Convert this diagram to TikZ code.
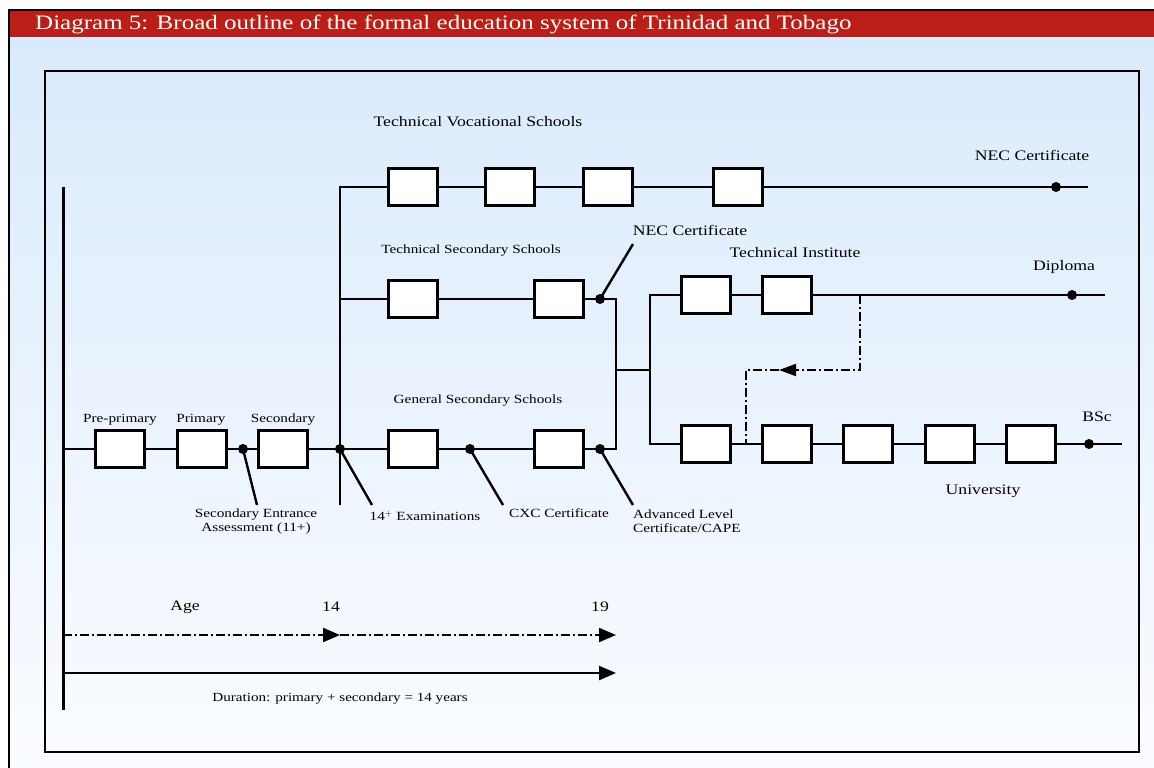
\documentclass[tikz,border=0pt]{standalone}
\usepackage{fontspec}
\setmainfont{Liberation Serif}[FakeStretch=1.22]
\usetikzlibrary{arrows.meta}
\definecolor{band}{RGB}{186,30,22}
\definecolor{skytop}{RGB}{218,234,252}
\definecolor{skybot}{RGB}{250,252,255}
\begin{document}
\begin{tikzpicture}[x=1pt,y=-1pt,
  stage/.style={draw,line width=2.4pt,fill=white,minimum width=49pt,minimum height=37pt,inner sep=0pt},
  link/.style={line width=2.4pt},
  spine/.style={line width=3pt},
  dot/.style={circle,fill=black,inner sep=0pt,minimum width=10pt,minimum height=9pt},
  dashdot/.style={line width=2.2pt,dash pattern=on 9pt off 3pt on 2pt off 3pt},
  bigtip/.style={-{Triangle[length=17pt,width=14pt]}},
  lbls/.style={inner sep=0pt,font=\fontsize{12.5}{14}\selectfont},
  lblm/.style={inner sep=0pt,font=\fontsize{14.5}{17}\selectfont},
]
\useasboundingbox (0,0) rectangle (1154,768);

% page panel, title band and frame
\shade[top color=skytop,bottom color=skybot] (9,37) rectangle (1154,768);
\fill[band] (9,11) rectangle (1154,37);
\draw[line width=2.5pt] (1154,10) -- (9,10) -- (9,768);
\node[anchor=west,text=white,inner sep=0pt,font=\fontsize{20.5}{23}\selectfont] (title) at (35,24)
  {Diagram 5: Broad outline of the formal education system of Trinidad and Tobago};
\draw[line width=2.2pt] (45,71) rectangle (1139,752);

% stage boxes
\node[stage] (pre) at (120,449) {};
\node[stage] (pri) at (202,449) {};
\node[stage] (sec) at (283,449) {};
\node[stage] (gs1) at (413,449) {};
\node[stage] (gs2) at (559,449) {};
\node[stage] (ts1) at (413,299) {};
\node[stage] (ts2) at (559,299) {};
\node[stage] (tv1) at (413,187) {};
\node[stage] (tv2) at (510,187) {};
\node[stage] (tv3) at (608,187) {};
\node[stage] (tv4) at (738,187) {};
\node[stage] (ti1) at (706,295) {};
\node[stage] (ti2) at (787,295) {};
\node[stage] (u1) at (706,444) {};
\node[stage] (u2) at (787,444) {};
\node[stage] (u3) at (868,444) {};
\node[stage] (u4) at (950,444) {};
\node[stage] (u5) at (1031,444) {};

% junctions and line ends
\coordinate (sptop) at (63,187);
\coordinate (spbot) at (63,710);
\coordinate (m0) at (63,449);
\coordinate (j11) at (243,449);
\coordinate (j14) at (340,449);
\coordinate (bartop) at (340,187);
\coordinate (barbot) at (340,505);
\coordinate (tsl) at (340,299);
\coordinate (jcxc) at (470,449);
\coordinate (jal) at (600,449);
\coordinate (jnec) at (600,299);
\coordinate (merge1) at (616,449);
\coordinate (merge2) at (616,299);
\coordinate (fork) at (616,370);
\coordinate (forkx) at (650,370);
\coordinate (fork1) at (650,295);
\coordinate (fork2) at (650,444);
\coordinate (tvend) at (1088,187);
\coordinate (tvdot) at (1056,187);
\coordinate (tiend) at (1105,295);
\coordinate (tidot) at (1072,295);
\coordinate (uend) at (1122,444);
\coordinate (udot) at (1089,444);
\coordinate (ldsea) at (257,505);
\coordinate (ld14) at (372,505);
\coordinate (ldcxc) at (503,505);
\coordinate (ldal) at (633,505);
\coordinate (ldnec) at (633,244);
\coordinate (drop1) at (860,295);
\coordinate (drop2) at (860,370);
\coordinate (dtip) at (779,370);
\coordinate (drop3) at (746,370);
\coordinate (drop4) at (746,444);

% spine and main lines
\draw[spine] (sptop) -- (spbot);
\draw[link] (m0) -- (pre) -- (pri) -- (sec) -- (gs1) -- (gs2) -- (merge1) -- (merge2) -- (ts2) -- (ts1) -- (tsl);
\draw[link] (barbot) -- (bartop) -- (tv1) -- (tv2) -- (tv3) -- (tv4) -- (tvend);
\draw[link] (fork) -- (forkx);
\draw[link] (tiend) -- (ti2) -- (ti1) -- (fork1) -- (fork2) -- (u1) -- (u2) -- (u3) -- (u4) -- (u5) -- (uend);

% leaders
\draw[link] (j11) -- (ldsea);
\draw[link] (j14) -- (ld14);
\draw[link] (jcxc) -- (ldcxc);
\draw[link] (jal) -- (ldal);
\draw[link] (jnec) -- (ldnec);

% transfer path from the Technical Institute
\draw[dashdot,line width=1.8pt,-{Triangle[length=17pt,width=12pt]}] (drop1) -- (drop2) -- (dtip);
\draw[dashdot,line width=1.8pt] (dtip) -- (drop3) -- (drop4);

% dots
\foreach \p/\n in {j11/d11,j14/d14,jcxc/dcxc,jal/dal,jnec/dnec,tvdot/dtv,tidot/dti,udot/du}
  \node[dot] (\n) at (\p) {};

% labels
\node[lblm] (ltv) at (478,122) {Technical Vocational Schools};
\node[lblm] (lnec1) at (1032,155) {NEC Certificate};
\node[lbls] (lts) at (471,251) {Technical Secondary Schools};
\node[lblm] (lnec2) at (690,230) {NEC Certificate};
\node[lblm] (lti) at (795,253) {Technical Institute};
\node[lblm] (ldip) at (1064,267) {Diploma};
\node[lbls] (lgs) at (478,401) {General Secondary Schools};
\node[lbls] (lpre) at (120,420) {Pre-primary};
\node[lbls] (lpri) at (201,420) {Primary};
\node[lbls] (lsec) at (283,420) {Secondary};
\node[lblm] (lbsc) at (1097,417) {BSc};
\node[lblm] (luni) at (983,491) {University};
\node[lbls,align=center] (lsea) at (256,521.5) {Secondary Entrance\\Assessment (11+)};
\node[lbls] (l14) at (425,516) {14$^{+}$ Examinations};
\node[lbls] (lcxc) at (559,513) {CXC Certificate};
\node[lbls,align=left,anchor=west] (lal) at (633,521.5) {Advanced Level\\Certificate/CAPE};

% age and duration scale
\coordinate (a0) at (63,635);
\coordinate (a14) at (340,635);
\coordinate (a19) at (616,635);
\coordinate (b0) at (63,673);
\coordinate (b1) at (616,673);
\draw[dashdot,bigtip] (a0) -- (a14);
\draw[dashdot,bigtip] (a14) -- (a19);
\draw[link,bigtip] (b0) -- (b1);
\node[lblm] (lage) at (185,607) {Age};
\node[lblm] (l14y) at (331,607) {14};
\node[lblm] (l19y) at (600,607) {19};
\node[inner sep=0pt,font=\fontsize{12.4}{14}\selectfont] (ldur) at (340,699) {Duration: primary + secondary = 14 years};
\end{tikzpicture}
\end{document}
